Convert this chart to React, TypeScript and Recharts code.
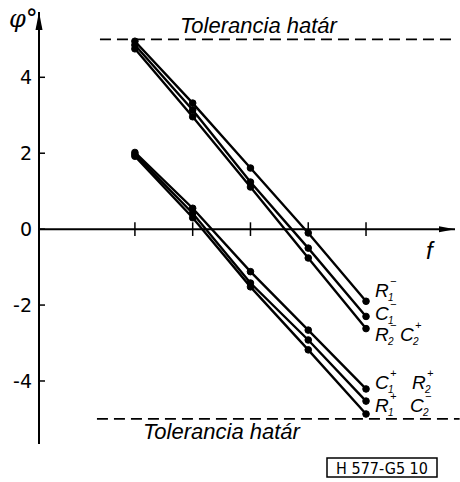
import React from "react";
import {
  LineChart,
  Line,
  XAxis,
  YAxis,
  ReferenceLine,
  ReferenceDot,
  LabelList,
  Customized,
} from "recharts";

// f steps along the horizontal axis
const fSteps = [1, 2, 3, 4, 5];
const yTicks = [-4, -2, 0, 2, 4];
const tolerance = 5;

// upper bundle
const r1Minus = [4.95, 3.32, 1.61, -0.1, -1.9];
const c1Minus = [4.85, 3.14, 1.24, -0.5, -2.3];
const r2MinusC2Plus = [4.75, 2.96, 1.11, -0.76, -2.62];
// lower bundle
const c1PlusR2Plus = [2.02, 0.55, -1.12, -2.66, -4.21];
const r1PlusMid = [1.97, 0.42, -1.42, -2.92, -4.53];
const c2MinusLow = [1.92, 0.3, -1.52, -3.18, -4.87];

const data = fSteps.map((f, i) => ({
  f,
  a: r1Minus[i],
  b: c1Minus[i],
  c: r2MinusC2Plus[i],
  d: c1PlusR2Plus[i],
  e: r1PlusMid[i],
  g: c2MinusLow[i],
}));

const FONT = "'Liberation Sans', 'DejaVu Sans', sans-serif";

type Part = { base: string; sub: string; sup: string; dx: number };

function Sym({ x, y, part }: { x: number; y: number; part: Part }) {
  return (
    <g fontFamily={FONT} fontStyle="italic" fill="#000">
      <text x={x} y={y} fontSize={19}>
        {part.base}
      </text>
      <text x={x + 13} y={y + 4} fontSize={10}>
        {part.sub}
      </text>
      <text x={x + 15} y={y - 12} fontSize={11}>
        {part.sup}
      </text>
    </g>
  );
}

function endLabel(parts: Part[], dy: number) {
  return (props: any) => {
    if (props.index !== fSteps.length - 1) return null;
    const x = Number(props.x) + 9;
    const y = Number(props.y) + dy;
    return (
      <g>
        {parts.map((p, i) => (
          <Sym key={i} x={x + p.dx} y={y} part={p} />
        ))}
      </g>
    );
  };
}

function YTick(props: any) {
  const { x, y, payload } = props;
  return (
    <g>
      <text
        x={x}
        y={y + 7}
        textAnchor="end"
        fontFamily="'DejaVu Sans', sans-serif"
        fontSize={19}
        fill="#000"
      >
        {payload.value}
      </text>
      <line x1={x + 7} x2={x + 13} y1={y} y2={y} stroke="#000" strokeWidth={1.5} />
    </g>
  );
}

function tolLabel(dx: number, dy: number) {
  return (props: any) => {
    const vb = props.viewBox || {};
    return (
      <text
        x={vb.x + dx}
        y={vb.y + dy}
        fontFamily={FONT}
        fontStyle="italic"
        fontSize={22}
        fill="#000"
      >
        Tolerancia határ
      </text>
    );
  };
}

const lineProps = {
  type: "linear" as const,
  stroke: "#000",
  strokeWidth: 2.4,
  dot: { r: 3.3, fill: "#000", stroke: "#000", strokeWidth: 1 },
  isAnimationActive: false,
};

export default function App() {
  return (
    <div style={{ position: "absolute", left: 0, top: 0, background: "#fff" }}>
      <LineChart
        width={460}
        height={482}
        data={data}
        margin={{ top: 12, right: 5, bottom: 38, left: 0 }}
      >
        <XAxis dataKey="f" type="number" domain={[-0.66, 6.54]} hide allowDataOverflow />
        <YAxis
          type="number"
          domain={[-5.66, 5.72]}
          ticks={yTicks}
          width={39}
          allowDataOverflow
          axisLine={{ stroke: "#000", strokeWidth: 2 }}
          tickLine={false}
          tickSize={0}
          tickMargin={7}
          tick={<YTick />}
          interval={0}
        />
        <ReferenceLine y={0} stroke="#000" strokeWidth={2} />
        {fSteps.map((f) => (
          <ReferenceLine
            key={f}
            segment={[
              { x: f, y: -0.18 },
              { x: f, y: 0.18 },
            ]}
            stroke="#000"
            strokeWidth={1.5}
          />
        ))}
        <ReferenceLine
          segment={[
            { x: 0.395, y: tolerance },
            { x: 6.5, y: tolerance },
          ]}
          ifOverflow="visible"
          stroke="#000"
          strokeWidth={1.8}
          strokeDasharray="11 6"
          label={tolLabel(80, -6)}
        />
        <ReferenceLine
          segment={[
            { x: 0.343, y: -tolerance },
            { x: 6.62, y: -tolerance },
          ]}
          ifOverflow="visible"
          stroke="#000"
          strokeWidth={1.8}
          strokeDasharray="11 6"
          label={tolLabel(46, 20)}
        />
        <ReferenceDot
          x={-0.66}
          y={5.72}
          ifOverflow="visible"
          shape={(p: any) => (
            <polygon
              points={`${p.cx},${p.cy} ${p.cx - 3.5},${p.cy + 18} ${p.cx + 3.5},${p.cy + 18}`}
              fill="#000"
            />
          )}
        />
        <ReferenceDot
          x={6.54}
          y={0}
          ifOverflow="visible"
          shape={(p: any) => (
            <polygon
              points={`${p.cx},${p.cy} ${p.cx - 16},${p.cy - 3} ${p.cx - 16},${p.cy + 3}`}
              fill="#000"
            />
          )}
        />
        <Line dataKey="a" {...lineProps}>
          <LabelList content={endLabel([{ base: "R", sub: "1", sup: "−", dx: 0 }], -4)} />
        </Line>
        <Line dataKey="b" {...lineProps}>
          <LabelList content={endLabel([{ base: "C", sub: "1", sup: "−", dx: 0 }], 4)} />
        </Line>
        <Line dataKey="c" {...lineProps}>
          <LabelList
            content={endLabel(
              [
                { base: "R", sub: "2", sup: "−", dx: 0 },
                { base: "C", sub: "2", sup: "+", dx: 25 },
              ],
              12
            )}
          />
        </Line>
        <Line dataKey="d" {...lineProps}>
          <LabelList
            content={endLabel(
              [
                { base: "C", sub: "1", sup: "+", dx: 0 },
                { base: "R", sub: "2", sup: "+", dx: 37 },
              ],
              0
            )}
          />
        </Line>
        <Line dataKey="e" {...lineProps}>
          <LabelList
            content={endLabel(
              [
                { base: "R", sub: "1", sup: "+", dx: 0 },
                { base: "C", sub: "2", sup: "−", dx: 35 },
              ],
              11
            )}
          />
        </Line>
        <Line dataKey="g" {...lineProps} />
        <Customized
          component={() => (
            <g fill="#000">
              <text x={9} y={27} fontFamily="'DejaVu Serif', serif" fontStyle="italic" fontSize={24}>
                φ°
              </text>
              <text x={426} y={259} fontFamily={FONT} fontStyle="italic" fontSize={24}>
                f
              </text>
              <rect x={327} y={458} width={110} height={19} fill="none" stroke="#000" strokeWidth={1.5} />
              <text
                x={382}
                y={474}
                textAnchor="middle"
                fontFamily="'DejaVu Sans Condensed', 'DejaVu Sans', sans-serif"
                fontSize={16}
              >
                H 577-G5 10
              </text>
            </g>
          )}
        />
      </LineChart>
    </div>
  );
}
